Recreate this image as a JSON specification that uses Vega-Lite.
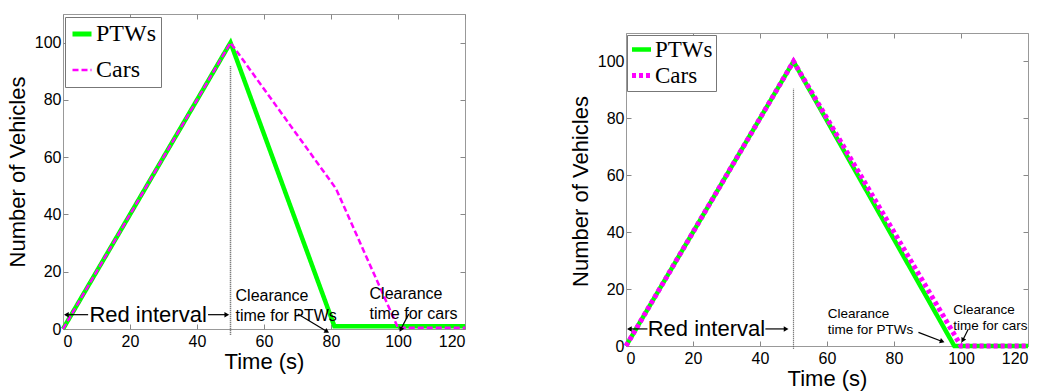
{
  "$schema": "https://vega.github.io/schema/vega-lite/v6.json",
  "padding": {"left": 5, "top": 13, "right": 5, "bottom": 5},
  "background": "white",
  "spacing": 94,
  "resolve": {"scale": {"color": "independent", "strokeDash": "independent"}, "legend": {"color": "independent", "strokeDash": "independent"}},
  "datasets": {
    "left_lines": [
      {"series": "PTWs", "t": 0, "n": 0},
      {"series": "PTWs", "t": 50, "n": 100},
      {"series": "PTWs", "t": 81, "n": 1},
      {"series": "PTWs", "t": 120, "n": 1},
      {"series": "Cars", "t": 0, "n": 0},
      {"series": "Cars", "t": 50, "n": 100},
      {"series": "Cars", "t": 81.5, "n": 49},
      {"series": "Cars", "t": 100, "n": 0.4},
      {"series": "Cars", "t": 120, "n": 0.4}
    ],
    "right_lines": [
      {"series": "PTWs", "t": 0, "n": 0},
      {"series": "PTWs", "t": 50, "n": 100},
      {"series": "PTWs", "t": 98, "n": 0},
      {"series": "PTWs", "t": 120, "n": 0},
      {"series": "Cars", "t": 0, "n": 0},
      {"series": "Cars", "t": 50, "n": 100},
      {"series": "Cars", "t": 100, "n": 0},
      {"series": "Cars", "t": 120, "n": 0}
    ],
    "left_marker": [{"t": 50, "n": -2, "n2": 91.8}],
    "right_marker": [{"t": 50, "n": -1, "n2": 90.5}],
    "left_big": [{"label": "Red interval", "t": 25.4, "n": 5}],
    "right_big": [{"label": "Red interval", "t": 24.0, "n": 6}],
    "left_small": [
      {"label": "Clearance\ntime for PTWs", "t": 51.5, "n": 11.4},
      {"label": "Clearance\ntime for cars", "t": 91.5, "n": 12.2}
    ],
    "right_small": [
      {"label": "Clearance\ntime for PTWs", "t": 60.2, "n": 11.1},
      {"label": "Clearance\ntime for cars", "t": 97.7, "n": 12.8}
    ],
    "left_arrows": [
      {"t": 7.5, "n": 5, "t2": 1.0, "n2": 5, "dir": 270},
      {"t": 43.3, "n": 5, "t2": 48.9, "n2": 5, "dir": 90},
      {"t": 70.1, "n": 5.2, "t2": 78.8, "n2": -0.9, "dir": 121},
      {"t": 103.2, "n": 5.2, "t2": 100.8, "n2": -0.2, "dir": 207}
    ],
    "right_arrows": [
      {"t": 6.4, "n": 6, "t2": 1.0, "n2": 6, "dir": 270},
      {"t": 41.6, "n": 6, "t2": 47.8, "n2": 6, "dir": 90},
      {"t": 87.3, "n": 4.8, "t2": 94.4, "n2": 1.6, "dir": 110},
      {"t": 102.2, "n": 6.0, "t2": 100.5, "n2": 2.0, "dir": 207}
    ]
  },
  "hconcat": [
    {
      "width": 402,
      "height": 315,
      "resolve": {"axis": {"x": "independent", "y": "independent"}},
      "layer": [
        {
          "data": {"name": "left_lines"},
          "transform": [{"filter": "datum.series === 'PTWs'"}],
          "mark": {"type": "line", "strokeWidth": 4.5},
          "encoding": {
            "x": {"field": "t", "type": "quantitative", "scale": {"domain": [0, 120], "nice": false},
                  "axis": {"orient": "bottom", "values": [0, 20, 40, 60, 80, 100, 120], "title": "Time (s)", "labelPadding": 9, "titlePadding": 2}},
            "y": {"field": "n", "type": "quantitative", "scale": {"domain": [0, 110], "nice": false},
                  "axis": {"orient": "left", "values": [0, 20, 40, 60, 80, 100], "title": "Number of Vehicles", "labelPadding": 7, "titlePadding": 5}},
            "color": {"field": "series", "type": "nominal", "scale": {"domain": ["PTWs", "Cars"], "range": ["#00ff00", "#ff00ff"]},
                      "legend": {"title": null, "orient": "none", "legendX": 2, "legendY": 3, "padding": 5, "rowPadding": 12, "labelFont": "Liberation Serif", "labelFontSize": 24, "labelColor": "black", "labelOffset": 2, "symbolType": "stroke", "symbolSize": 361, "strokeColor": "#777777", "fillColor": "white", "cornerRadius": 0,
                                 "encode": {"symbols": {"update": {"strokeWidth": {"signal": "datum.value === 'PTWs' ? 5 : 2.5"}}}}}},
            "strokeDash": {"field": "series", "type": "nominal", "scale": {"domain": ["PTWs", "Cars"], "range": [[1, 0], [6, 3]]}}
          }
        },
        {
          "data": {"name": "left_lines"},
          "transform": [{"filter": "datum.series === 'Cars'"}],
          "mark": {"type": "line", "strokeWidth": 2.5},
          "encoding": {
            "x": {"field": "t", "type": "quantitative", "axis": null},
            "y": {"field": "n", "type": "quantitative", "axis": null},
            "color": {"field": "series", "type": "nominal"},
            "strokeDash": {"field": "series", "type": "nominal"}
          }
        },
        {
          "data": {"name": "left_marker"},
          "mark": {"type": "rule", "color": "#555555", "strokeDash": [1, 1], "strokeWidth": 1.5},
          "encoding": {
            "x": {"field": "t", "type": "quantitative", "axis": {"orient": "top", "values": [0, 20, 40, 60, 80, 100, 120], "labels": false, "title": null}},
            "y": {"field": "n", "type": "quantitative", "axis": {"orient": "right", "values": [0, 20, 40, 60, 80, 100], "labels": false, "title": null}},
            "y2": {"field": "n2"}
          }
        },
        {
          "data": {"name": "left_big"},
          "mark": {"type": "text", "fontSize": 22, "font": "Liberation Sans", "align": "center", "baseline": "middle", "color": "black"},
          "encoding": {
            "x": {"field": "t", "type": "quantitative", "axis": null},
            "y": {"field": "n", "type": "quantitative", "axis": null},
            "text": {"field": "label"}
          }
        },
        {
          "data": {"name": "left_small"},
          "mark": {"type": "text", "fontSize": 16, "font": "Liberation Sans", "align": "left", "baseline": "middle", "color": "black", "lineBreak": "\n", "lineHeight": 20},
          "encoding": {
            "x": {"field": "t", "type": "quantitative", "axis": null},
            "y": {"field": "n", "type": "quantitative", "axis": null},
            "text": {"field": "label"}
          }
        },
        {
          "data": {"name": "left_arrows"},
          "mark": {"type": "rule", "color": "black", "strokeWidth": 1.2},
          "encoding": {
            "x": {"field": "t", "type": "quantitative", "axis": null},
            "y": {"field": "n", "type": "quantitative", "axis": null},
            "x2": {"field": "t2"},
            "y2": {"field": "n2"}
          }
        },
        {
          "data": {"name": "left_arrows"},
          "mark": {"type": "point", "shape": "triangle-up", "filled": true, "color": "black", "size": 30, "opacity": 1},
          "encoding": {
            "x": {"field": "t2", "type": "quantitative", "axis": null},
            "y": {"field": "n2", "type": "quantitative", "axis": null},
            "angle": {"field": "dir", "type": "quantitative", "scale": null}
          }
        }
      ]
    },
    {
      "width": 402,
      "height": 332,
      "view": {"stroke": null},
      "resolve": {"axis": {"x": "independent", "y": "independent"}},
      "layer": [
        {
          "data": {"name": "right_lines"},
          "transform": [{"filter": "datum.series === 'PTWs'"}],
          "mark": {"type": "line", "strokeWidth": 4.5},
          "encoding": {
            "x": {"field": "t", "type": "quantitative", "scale": {"domain": [0, 120], "nice": false},
                  "axis": {"orient": "bottom", "domain": true, "values": [0, 20, 40, 60, 80, 100, 120], "title": "Time (s)", "labelPadding": 9, "titlePadding": 2}},
            "y": {"field": "n", "type": "quantitative", "scale": {"domain": [0, 110], "nice": false, "rangeMax": 19},
                  "axis": {"orient": "left", "domain": true, "values": [0, 20, 40, 60, 80, 100], "title": "Number of Vehicles", "labelPadding": 7, "titlePadding": 5, "titleY": 177}},
            "color": {"field": "series", "type": "nominal", "scale": {"domain": ["PTWs", "Cars"], "range": ["#00ff00", "#ff00ff"]},
                      "legend": {"title": null, "orient": "none", "legendX": 1, "legendY": 21, "padding": 3, "rowPadding": 2, "labelFont": "Liberation Serif", "labelFontSize": 23, "labelColor": "black", "labelOffset": 2, "symbolType": "stroke", "symbolSize": 361, "strokeColor": "#777777", "fillColor": "white", "cornerRadius": 0,
                                 "encode": {"symbols": {"update": {"strokeWidth": {"signal": "datum.value === 'PTWs' ? 4.5 : 5"}}}}}},
            "strokeDash": {"field": "series", "type": "nominal", "scale": {"domain": ["PTWs", "Cars"], "range": [[1, 0], [4, 3]]}}
          }
        },
        {
          "data": {"name": "right_lines"},
          "transform": [{"filter": "datum.series === 'Cars'"}],
          "mark": {"type": "line", "strokeWidth": 5},
          "encoding": {
            "x": {"field": "t", "type": "quantitative", "axis": null},
            "y": {"field": "n", "type": "quantitative", "axis": null},
            "color": {"field": "series", "type": "nominal"},
            "strokeDash": {"field": "series", "type": "nominal"}
          }
        },
        {
          "data": {"name": "right_marker"},
          "mark": {"type": "rule", "color": "#555555", "strokeDash": [1, 1], "strokeWidth": 1.2},
          "encoding": {
            "x": {"field": "t", "type": "quantitative", "axis": {"orient": "top", "domain": true, "offset": -19, "values": [0, 20, 40, 60, 80, 100, 120], "labels": false, "title": null}},
            "y": {"field": "n", "type": "quantitative", "axis": {"orient": "right", "domain": true, "values": [0, 20, 40, 60, 80, 100], "labels": false, "title": null}},
            "y2": {"field": "n2"}
          }
        },
        {
          "data": {"name": "right_big"},
          "mark": {"type": "text", "fontSize": 22, "font": "Liberation Sans", "align": "center", "baseline": "middle", "color": "black"},
          "encoding": {
            "x": {"field": "t", "type": "quantitative", "axis": null},
            "y": {"field": "n", "type": "quantitative", "axis": null},
            "text": {"field": "label"}
          }
        },
        {
          "data": {"name": "right_small"},
          "mark": {"type": "text", "fontSize": 13.5, "font": "Liberation Sans", "align": "left", "baseline": "middle", "color": "black", "lineBreak": "\n", "lineHeight": 16},
          "encoding": {
            "x": {"field": "t", "type": "quantitative", "axis": null},
            "y": {"field": "n", "type": "quantitative", "axis": null},
            "text": {"field": "label"}
          }
        },
        {
          "data": {"name": "right_arrows"},
          "mark": {"type": "rule", "color": "black", "strokeWidth": 1.2},
          "encoding": {
            "x": {"field": "t", "type": "quantitative", "axis": null},
            "y": {"field": "n", "type": "quantitative", "axis": null},
            "x2": {"field": "t2"},
            "y2": {"field": "n2"}
          }
        },
        {
          "data": {"name": "right_arrows"},
          "mark": {"type": "point", "shape": "triangle-up", "filled": true, "color": "black", "size": 30, "opacity": 1},
          "encoding": {
            "x": {"field": "t2", "type": "quantitative", "axis": null},
            "y": {"field": "n2", "type": "quantitative", "axis": null},
            "angle": {"field": "dir", "type": "quantitative", "scale": null}
          }
        }
      ]
    }
  ],
  "config": {
    "font": "Liberation Sans",
    "view": {"stroke": "#999999", "strokeWidth": 1},
    "axis": {
      "domain": false,
      "domainColor": "#999999",
      "domainWidth": 1,
      "grid": false,
      "ticks": true,
      "tickColor": "#888888",
      "tickSize": -5,
      "labelFont": "Liberation Sans",
      "labelFontSize": 16,
      "labelColor": "black",
      "titleFont": "Liberation Sans",
      "titleFontSize": 22,
      "titleFontWeight": "normal",
      "titleColor": "black"
    }
  }
}
